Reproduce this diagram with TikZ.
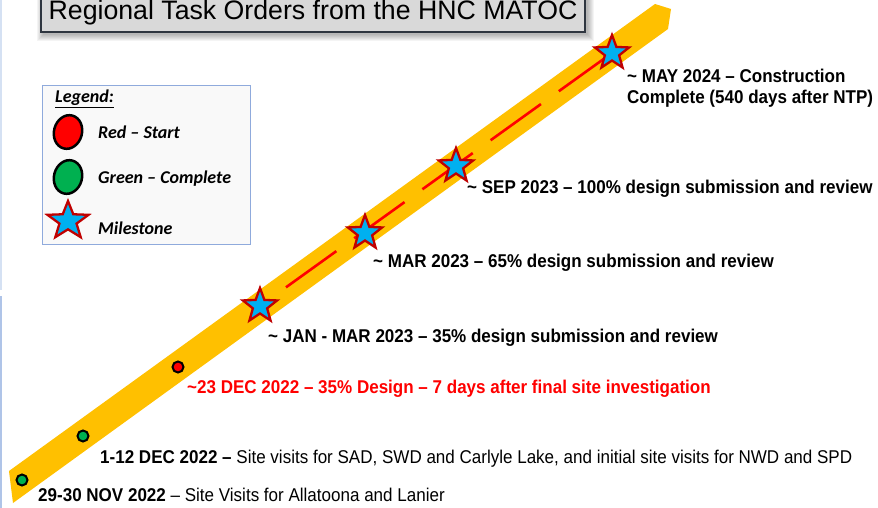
\documentclass[tikz,border=0pt]{standalone}
\usepackage{fontspec}
\setmainfont{Liberation Sans}
\newfontfamily\narrowfont[FakeStretch=0.92]{Liberation Sans}
\newfontfamily\calfont{Carlito}
\usetikzlibrary{shapes.geometric}
\definecolor{bandc}{HTML}{FFC000}
\definecolor{starfill}{HTML}{00B0F0}
\definecolor{starline}{HTML}{C00000}
\definecolor{dotgreen}{HTML}{00B050}
\definecolor{dotred}{HTML}{FF0000}
\definecolor{legline}{HTML}{8FAADC}
\definecolor{legfill}{HTML}{F9F9F9}
\definecolor{titlefill}{HTML}{D9D9D9}
\definecolor{titleline}{HTML}{2F3640}
\definecolor{labelred}{HTML}{FF0000}
\definecolor{stripeA}{HTML}{D5E1F3}
\definecolor{stripeB}{HTML}{AFC4E8}
\tikzset{
  milestone/.style={star, star points=5, star point ratio=2.4, minimum size=36pt, inner sep=0pt,
    fill=starfill, draw=starline, line width=2.3pt},
  dotbase/.style={circle, minimum size=11pt, inner sep=0pt, draw=black, line width=2pt},
  gdot/.style={dotbase, fill=dotgreen},
  rdot/.style={dotbase, fill=dotred},
  lab/.style={anchor=base west, inner sep=0pt, font=\narrowfont\fontsize{18.5}{21}\selectfont, text=black},
  legtext/.style={anchor=base west, inner sep=0pt, font=\calfont\fontsize{18}{22}\selectfont\bfseries\itshape},
  legell/.style={ellipse, minimum width=28pt, minimum height=34pt, inner sep=0pt, draw=black, line width=2.5pt, rotate=-15},
  dashline/.style={draw=dotred, line width=2.6pt, dash pattern=on 62pt off 22pt, dash phase=52pt},
}
\begin{document}
\begin{tikzpicture}[x=1pt,y=-1pt]
\useasboundingbox (0,0) rectangle (878,508);
\fill[white] (0,0) rectangle (878,508);
% left edge stripes
\fill[stripeA] (0,0) rectangle (2,290);
\fill[stripeB] (0,296) rectangle (2,508);
% title shadow
\foreach \i in {1,...,7} {
  \fill[black, opacity=0.045] (41-\i+3,-8) rectangle (585+\i+2,32+\i+2);
}
\node[draw=titleline, fill=titlefill, line width=1.4pt, minimum width=544pt, minimum height=38pt,
  inner sep=0pt, font=\fontsize{26.7}{30}\selectfont] (title) at (313,13) {Regional Task Orders from the HNC MATOC};
% legend
\node[draw=legline, fill=legfill, line width=1.2pt, minimum width=208pt, minimum height=159pt,
  inner sep=0pt, anchor=north west] (legend) at (42,85) {};
\node[legtext] (legtitle) at (55,103) {\underline{Legend:}};
\node[legell, fill=dotred] (legred) at (68,132) {};
\node[legtext] (legredt) at (98,139) {Red – Start};
\node[legell, fill=dotgreen] (leggreen) at (68,177) {};
\node[legtext] (leggreent) at (98,183) {Green – Complete};
\node[milestone, minimum size=40pt, xscale=1.08] (legstar) at (68,221) {};
\node[legtext] (legstart) at (98,234) {Milestone};
% band
\fill[bandc] (9,471) -- (655,4) -- (671,9) -- (668,29) -- (13,503) -- cycle;
% positions
\coordinate (cg1) at (22,480);
\coordinate (cg2) at (83,436);
\coordinate (cr)  at (178,367);
\coordinate (c1) at (260,306);
\coordinate (c2) at (365,233);
\coordinate (c3) at (456,166);
\coordinate (c4) at (612,53);
\draw[dashline] (c1) -- (c4);
\node[gdot] (g1) at (cg1) {};
\node[gdot] (g2) at (cg2) {};
\node[rdot] (r1) at (cr) {};
\node[milestone] (s1) at (c1) {};
\node[milestone] (s2) at (c2) {};
\node[milestone] (s3) at (c3) {};
\node[milestone] (s4) at (c4) {};
% labels
\node[lab, align=left] (lmay) at (627,104) {\textbf{\textasciitilde{} MAY 2024 – Construction}\\\textbf{Complete (540 days after NTP)}};
\node[lab] (lsep) at (467,193) {\textbf{\textasciitilde{} SEP 2023 – 100\% design submission and review}};
\node[lab] (lmar) at (373,267) {\textbf{\textasciitilde{} MAR 2023 – 65\% design submission and review}};
\node[lab] (ljan) at (268,342) {\textbf{\textasciitilde{} JAN - MAR 2023 – 35\% design submission and review}};
\node[lab, text=labelred] (ldec23) at (187,393) {\textbf{\textasciitilde23 DEC 2022 – 35\% Design – 7 days after final site investigation}};
\node[lab] (ldec1) at (100,463) {\textbf{1-12 DEC 2022 –} Site visits for SAD, SWD and Carlyle Lake, and initial site visits for NWD and SPD};
\node[lab] (lnov) at (38,501) {\textbf{29-30 NOV 2022} – Site Visits for Allatoona and Lanier};
\end{tikzpicture}
\end{document}
